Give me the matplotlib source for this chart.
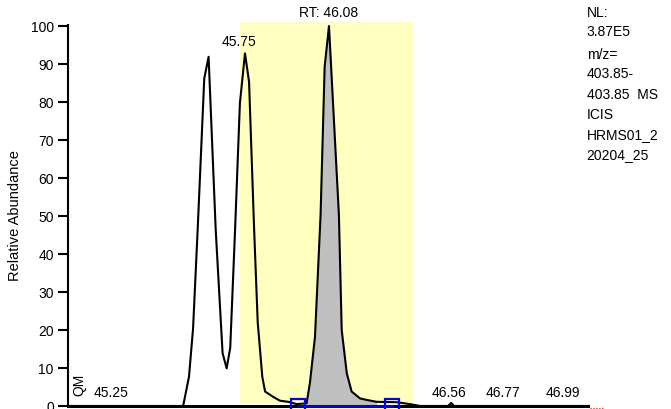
import matplotlib.pyplot as plt
import numpy as np

plt.rcParams['font.family'] = ['Liberation Sans', 'DejaVu Sans']

# -------------- CHROMATOGRAM -----------------------------------------
rt = [45.055, 45.507, 45.530, 45.546, 45.564, 45.590, 45.607, 45.635, 45.662,
      45.678, 45.692, 45.711, 45.730, 45.750, 45.766, 45.786, 45.800, 45.818,
      45.829, 45.861, 45.887, 45.920, 45.953, 45.992, 46.005, 46.025, 46.047,
      46.063, 46.080, 46.119, 46.130, 46.150, 46.169, 46.202, 46.228, 46.267,
      46.346, 46.398, 46.438, 46.548, 46.560, 46.572, 47.098]
abund = [0, 0, 7.7, 20.4, 46.3, 86.2, 91.9, 46.3, 13.9,
         9.9, 15.3, 46.3, 79.7, 92.8, 85.3, 46.3, 22.0, 7.7,
         3.8, 2.4, 1.4, 1.1, 0.5, 0.7, 6.0, 18.2, 50.3,
         89.3, 100.0, 50.3, 20.0, 8.6, 3.8, 2.0, 1.6, 1.1,
         1.0, 0.5, 0, 0, 0.8, 0, 0]

# integrated peak (RT 46.08) and highlighted window
peak_start, peak_end = 45.958, 46.328
window_start, window_end = 45.730, 46.410

# peak labels
label_rt = [45.223, 46.553, 46.762, 47.0]
label_txt = ["45.25", "46.56", "46.77", "46.99"]

info_lines = ["NL:", "3.87E5", "m/z=", "403.85-", "403.85  MS", "ICIS",
              "HRMS01_2", "20204_25"]
info_y = [13, 32, 55, 74, 95, 115, 135, 155]  # pixels from top

rt = np.array(rt)
abund = np.array(abund)

fig = plt.figure(figsize=(6.71, 4.09), dpi=100)
ax = fig.add_axes([0.1013, 0.00733, 0.775, 0.9318])

ax.fill_between([window_start, window_end], 0.5, 101, color='#ffffc0',
                lw=0, zorder=0, clip_on=False)

mask = (rt >= peak_start) & (rt <= peak_end)
ax.fill_between(rt, abund, 0, where=mask, color='#c0c0c0', lw=0, zorder=1)

ax.plot(rt, abund, color='black', lw=1.5, zorder=2, clip_on=False)

# baseline of integration
ax.plot([peak_start, peak_end], [0, 0], color='#0000ff', lw=1.8, zorder=3,
        clip_on=False)
ax.plot([peak_start, peak_end], [0, 0], ls='', marker='s', ms=10,
        mfc='none', mec='#0000ff', mew=1.6, zorder=3, clip_on=False)
ax.plot([47.105, 47.16], [-0.6, -0.6], color='red', lw=0.8, ls=':',
        clip_on=False)

ax.set_xlim(45.0545, 47.0977)
ax.set_ylim(0, 100.3)
ax.set_yticks(np.arange(0, 101, 10))
ax.set_xticks([])
ax.tick_params(axis='y', length=7.2, width=1.5, pad=3, labelsize=10)
for s in ['top', 'right']:
    ax.spines[s].set_visible(False)
ax.spines['left'].set_linewidth(1.5)
ax.spines['bottom'].set_linewidth(2.2)
ax.patch.set_alpha(0)

ax.set_ylabel("Relative Abundance", fontsize=10.5, labelpad=6)

ax.text(46.08, 103.4, "RT: 46.08", ha='center', va='center', fontsize=10,
        clip_on=False)
ax.text(45.728, 95.8, "45.75", ha='center', va='center', fontsize=10)
for t, s in zip(label_rt, label_txt):
    ax.text(t, 3.5, s, ha='center', va='center', fontsize=10)
ax.text(45.100, 5.5, "QM", rotation=90, ha='center', va='center', fontsize=10)

for s, y in zip(info_lines, info_y):
    fig.text(586.7 / 671, 1 - y / 409, s, ha='left', va='center', fontsize=10)

fig.savefig("out.png", dpi=100)
